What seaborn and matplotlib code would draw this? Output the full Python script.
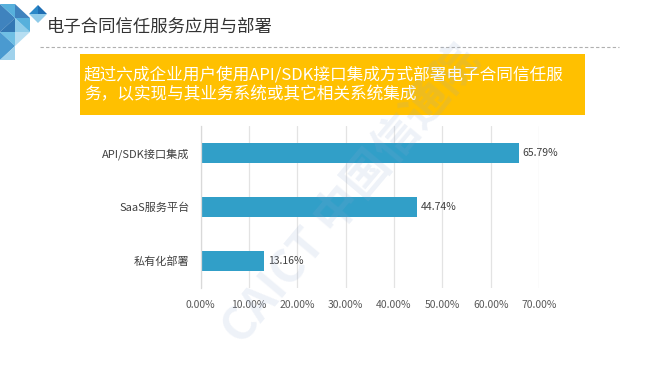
import matplotlib
matplotlib.use('Agg')
import matplotlib.pyplot as plt
import matplotlib.patches as patches
import seaborn as sns
import pandas as pd

# dados
categorias = ['API/SDK接口集成', 'SaaS服务平台', '私有化部署']
percentuais = [65.79, 44.74, 13.16]
ticks_x = [0, 10, 20, 30, 40, 50, 60, 70]

titulo = '电子合同信任服务应用与部署'
destaque = '超过六成企业用户使用API/SDK接口集成方式部署电子合同信任服\n务，以实现与其业务系统或其它相关系统集成'

sns.set_theme(style='white')
plt.rcParams['font.family'] = ['Noto Sans CJK SC', 'DejaVu Sans']

df = pd.DataFrame({'categoria': categorias, 'percentual': percentuais})

fig = plt.figure(figsize=(6.5, 3.66), dpi=100)
fig.patch.set_facecolor('white')

# decoração do canto superior esquerdo (mosaico de triângulos)
W, H = 650, 366
def px(x, y):
    return (x / W, 1 - y / H)

tri_cores = ['#1d6db3', '#3aa3d6', '#7cc3e6', '#0f5fa6', '#56b4e0', '#a9d9f0', '#2a88c8', '#8fcbe9']
tris = [
    [(0, 4), (15, 18), (0, 32)], [(0, 4), (15, 4), (15, 18)],
    [(15, 18), (30, 32), (15, 32)], [(0, 32), (15, 18), (15, 32)],
    [(0, 32), (15, 32), (15, 46)], [(15, 32), (30, 32), (15, 46)],
    [(0, 32), (15, 46), (0, 60)], [(15, 46), (0, 60), (15, 60)],
    [(15, 4), (30, 18), (15, 18)], [(15, 18), (30, 18), (30, 32)],
]
for i, t in enumerate(tris):
    fig.patches.append(patches.Polygon([px(*p) for p in t], closed=True,
                                       transform=fig.transFigure,
                                       facecolor=tri_cores[i % len(tri_cores)],
                                       edgecolor='none', alpha=0.85))
# losango pequeno
fig.patches.append(patches.Polygon([px(38, 5), px(47, 14), px(38, 14)], closed=True,
                                   transform=fig.transFigure, facecolor='#1d6db3', edgecolor='none'))
fig.patches.append(patches.Polygon([px(38, 5), px(38, 14), px(29, 14)], closed=True,
                                   transform=fig.transFigure, facecolor='#2a88c8', edgecolor='none'))
fig.patches.append(patches.Polygon([px(29, 14), px(47, 14), px(38, 23)], closed=True,
                                   transform=fig.transFigure, facecolor='#8fcbe9', edgecolor='none'))

# título
fig.text(47 / W, 1 - 27 / H, titulo, fontsize=12.5, color='#333333', va='center', ha='left')
fig.add_artist(plt.Line2D([40 / W, 619 / W], [1 - 47 / H, 1 - 47 / H], transform=fig.transFigure,
                          color='#b0b0b0', linewidth=0.8, linestyle=(0, (3, 2))))

# caixa amarela com destaque
fig.patches.append(patches.Rectangle(px(80, 115), 505 / W, 61 / H, transform=fig.transFigure,
                                     facecolor='#ffc000', edgecolor='none'))
fig.text(84 / W, 1 - 85 / H, destaque, fontsize=12, color='white', va='center', ha='left',
         linespacing=1.25)

# marca d'água
fig.text(352 / W, 1 - 195 / H, 'CAICT 中国信通院', fontsize=33, fontweight='bold',
         color='#8fa8d0', alpha=0.15, rotation=50, ha='center', va='center')

# gráfico de barras
ax = fig.add_axes([200.7 / W, 78 / H, 338.3 / W, 162 / H])
ax.set_facecolor('none')
sns.barplot(data=df, x='percentual', y='categoria', orient='h', color='#319fc8',
            width=0.37, saturation=1, linewidth=0, ax=ax)

ax.set_xlim(0, 70)
ax.set_ylim(2.5, -0.5)
ax.set_xticks(ticks_x)
ax.set_xticklabels(['{:.2f}%'.format(t) for t in ticks_x])
ax.set_xlabel('')
ax.set_ylabel('')
ax.grid(axis='x', color='#e3e3e3', linewidth=0.9)
ax.set_axisbelow(True)

for s in ['top', 'right', 'bottom']:
    ax.spines[s].set_visible(False)
ax.spines['left'].set_color('#d9d9d9')
ax.spines['left'].set_linewidth(0.9)

ax.tick_params(axis='x', length=0, pad=9, labelsize=7.5, labelcolor='#595959')
ax.tick_params(axis='y', which='major', length=0, pad=8, labelsize=8, labelcolor='#404040')
ax.set_yticks([-0.5, 0.5, 1.5, 2.5], minor=True)
ax.tick_params(axis='y', which='minor', length=4, color='#d9d9d9', width=0.9)

# rótulos de valor
for i, v in enumerate(percentuais):
    ax.text(v + 0.8, i, '{:.2f}%'.format(v), va='center', ha='left',
            fontsize=7.5, color='#404040')

fig.savefig('out.png', dpi=100)
